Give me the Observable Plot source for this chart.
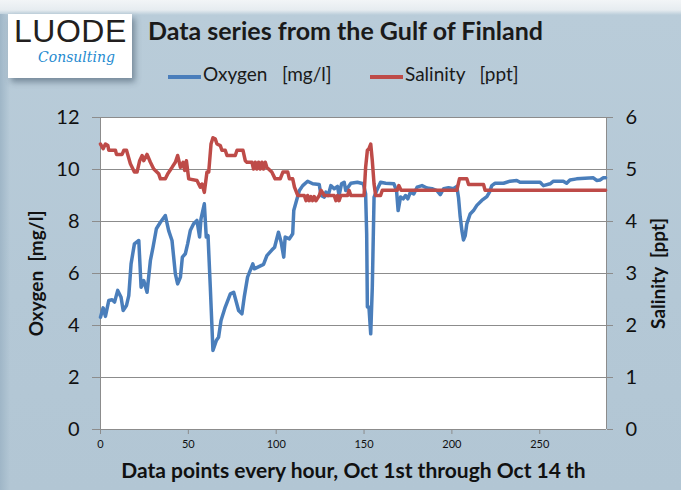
<!DOCTYPE html>
<html>
<head>
<meta charset="utf-8">
<script src="https://cdn.jsdelivr.net/npm/d3@7"></script>
<script src="https://cdn.jsdelivr.net/npm/@observablehq/plot@0.6"></script>
<style>
  html, body { margin: 0; padding: 0; }
  #page {
    position: relative; width: 681px; height: 490px; overflow: hidden;
    background: linear-gradient(to bottom, #f2f5f7 0px, #e6ecf0 10px, #b9ccd9 15px, #b4c8d6 60%, #b2c6d4 100%);
    font-family: Lato, "Open Sans", sans-serif;
  }
  #leftshade { position: absolute; left: 0; top: 14px; width: 10px; height: 476px;
    background: linear-gradient(to right, #9fb6c7, rgba(180,200,214,0)); }
  #logo { position: absolute; left: 8px; top: 14px; width: 124px; height: 64px; background: #fff;
    box-shadow: 3px 4px 6px rgba(40,60,80,0.45); }
  #logo .big { position: absolute; left: 6px; top: -1px; font-family: "Liberation Sans", Arial, sans-serif;
    font-size: 32px; color: #231f20; letter-spacing: 0.5px; }
  #logo .small { position: absolute; left: 30px; top: 35px; font-family: "DejaVu Serif", serif; font-style: italic;
    font-size: 14px; color: #1f8bd0; }
  #title { position: absolute; left: 148px; top: 15px; font-size: 25px; font-weight: bold; color: #1a1a1a; white-space: nowrap; }
  .leg { position: absolute; top: 62px; font-size: 19px; color: #1a1a1a; white-space: nowrap; }
  .sw { position: absolute; top: 75px; width: 33px; height: 4px; }
  #chart { position: absolute; left: 0; top: 95px; }
</style>
</head>
<body>
<div id="page">
  <div id="leftshade"></div>
  <div id="logo"><div class="big">LUODE</div><div class="small">Consulting</div></div>
  <div id="title">Data series from the Gulf of Finland</div>
  <div class="sw" style="left:168px;background:#4a7ebb"></div>
  <div class="leg" style="left:203px">Oxygen&nbsp;&nbsp;&nbsp;[mg/l]</div>
  <div class="sw" style="left:370px;background:#be4b48"></div>
  <div class="leg" style="left:405px">Salinity&nbsp;&nbsp;&nbsp;[ppt]</div>
  <div id="chart"></div>
</div>
<script>
// Oxygen [mg/l] readings (hour index, value)
const oxyHour = [0,1.5,2.8,4.7,6.6,8.0,9.8,11.7,12.9,14.8,16.1,17.4,19.3,21.8,23.1,24.6,26.5,28.4,29.9,31.8,34.1,36.9,38.8,40.7,42.6,43.9,45.5,46.6,48.3,49.6,51.1,53.0,54.9,56.4,57.2,59.1,60.2,61.2,62.5,64.0,65.9,67.2,68.6,71.0,73.9,75.8,78.6,80.5,81.8,83.7,86.7,87.5,92.8,94.7,97.5,99.1,101.3,102.8,104.3,105.1,107.5,109.4,110.0,111.3,113.2,115.1,117.9,120.8,124.5,125.5,127.4,128.3,129.6,131.1,133.0,134.9,135.8,137.2,138.7,139.6,140.9,142.5,146.2,149.6,150.9,151.5,151.9,152.8,153.8,154.7,155.7,157.2,159.4,162.3,167.0,168.5,169.4,170.8,172.3,173.6,174.9,176.4,178.3,180.2,183.0,185.8,188.7,191.5,193.4,195.3,198.1,200.9,202.8,203.8,204.7,205.7,206.6,207.6,208.5,210.4,212.3,214.2,217.0,219.9,221.4,222.7,224.6,229.4,233.1,236.9,238.8,250.2,252.1,255.9,257.8,263.4,265.3,267.2,271.0,280.5,282.4,284.3,286.2,287.5];
const oxyValue = [4.32,4.68,4.35,4.96,4.99,4.90,5.35,5.09,4.58,4.77,5.15,6.37,7.14,7.27,5.47,5.73,5.28,6.50,7.01,7.72,7.97,8.23,7.65,7.27,5.99,5.60,5.86,6.63,6.76,7.14,7.65,7.91,8.04,7.40,8.10,8.68,7.40,7.46,5.47,3.04,3.42,3.55,4.19,4.71,5.22,5.28,4.58,4.45,5.09,5.86,6.37,6.18,6.35,6.69,6.90,7.01,7.59,7.21,6.63,7.40,7.33,7.53,8.42,8.74,9.19,9.38,9.55,9.45,9.42,9.00,8.94,9.13,9.00,9.38,9.26,9.35,9.00,9.45,9.51,9.19,9.32,9.47,9.51,9.45,9.06,7.53,4.71,4.71,3.68,5.47,8.94,9.19,9.51,9.47,9.45,9.19,8.42,8.94,8.87,9.00,8.87,9.13,9.06,9.32,9.38,9.29,9.26,9.19,9.03,9.26,9.30,9.26,9.35,8.90,8.20,7.65,7.29,7.46,7.91,8.29,8.42,8.62,8.81,8.96,9.13,9.38,9.47,9.47,9.55,9.58,9.51,9.51,9.38,9.45,9.55,9.55,9.47,9.60,9.64,9.68,9.58,9.60,9.68,9.68];

// Salinity [ppt] readings (hour index, value)
const salHour = [0,1.5,2.8,4.2,4.7,8.5,9.1,12.3,13.3,14.8,17.0,19.3,20.8,22.3,23.7,24.6,26.5,28.4,30.3,33.1,34.1,36.9,38.3,40.7,42.6,43.9,45.5,47.0,47.9,48.9,50.2,54.9,56.8,57.8,59.1,60.6,61.6,62.9,64.0,65.3,66.3,68.2,69.1,71.0,72.0,76.7,77.7,81.1,82.4,83.3,86.2,87.1,88.1,89.0,90.0,90.9,91.9,92.8,93.8,94.7,97.5,99.4,102.3,103.8,106.6,107.5,109.4,110.4,112.3,116.0,117.0,117.9,118.8,119.8,120.7,121.6,122.6,124.5,125.5,127.4,133.0,134.0,134.9,135.8,136.8,140.6,141.5,142.5,150.0,150.9,151.9,152.8,153.8,154.7,155.7,156.6,159.4,160.4,168.9,169.8,171.1,202.8,204.3,208.5,209.5,218.0,218.9,287.5];
const salValue = [5.49,5.40,5.49,5.46,5.37,5.37,5.29,5.29,5.37,5.37,5.11,4.95,4.95,5.17,5.27,5.17,5.29,5.14,5.01,4.92,4.82,4.82,4.92,5.04,5.14,5.27,5.04,5.14,4.98,5.17,4.82,4.79,4.66,4.72,4.56,4.95,4.95,5.49,5.61,5.59,5.49,5.46,5.37,5.37,5.27,5.27,5.37,5.37,5.17,5.14,5.14,5.01,5.14,5.01,5.14,5.01,5.14,5.01,5.14,5.04,4.95,4.82,4.82,4.95,4.95,4.82,4.82,4.66,4.50,4.50,4.40,4.50,4.40,4.48,4.40,4.48,4.40,4.50,4.60,4.50,4.50,4.40,4.50,4.40,4.50,4.50,4.60,4.50,4.50,5.04,5.37,5.40,5.49,5.17,4.72,4.50,4.50,4.60,4.60,4.69,4.60,4.60,4.82,4.82,4.71,4.71,4.60,4.60];

const xTicks = [0, 50, 100, 150, 200, 250];
const oxyTicks = [0, 2, 4, 6, 8, 10, 12];
const salTicks = [0, 1, 2, 3, 4, 5, 6];
const xTitle = "Data points every hour, Oct 1st through Oct 14 th";
const yTitleLeft = "Oxygen\u00a0\u00a0[mg/l]";
const yTitleRight = "Salinity\u00a0\u00a0[ppt]";

const oxygen = oxyHour.map((h, i) => ({h, v: oxyValue[i]}));
const salinity = salHour.map((h, i) => ({h, v: salValue[i]}));
const salToOxy = 12 / 6;

const grid = "#8c8c8c";
const chart = Plot.plot({
  width: 681, height: 395,
  marginLeft: 100, marginRight: 75, marginTop: 22, marginBottom: 61,
  style: {background: "transparent", fontFamily: "Lato, 'Open Sans', sans-serif", color: "#111"},
  x: {domain: [0, 288]},
  y: {domain: [0, 12]},
  marks: [
    Plot.frame({fill: "white", stroke: null}),
    Plot.gridY(oxyTicks, {stroke: grid, strokeOpacity: 1, strokeWidth: 1}),
    Plot.ruleX([0, 288], {stroke: grid, strokeWidth: 1}),
    Plot.axisY(oxyTicks, {anchor: "left", tickSize: 8, tickPadding: 13, fontSize: 20, stroke: grid, label: null}),
    Plot.axisY(salTicks.map(s => s * salToOxy), {anchor: "right", tickSize: 6, tickPadding: 13, fontSize: 20, stroke: grid, label: null, tickFormat: d => d / salToOxy}),
    Plot.axisX(xTicks, {anchor: "bottom", tickSize: 5, tickPadding: 6, fontSize: 11, stroke: grid, label: null}),
    Plot.line(oxygen, {x: "h", y: "v", stroke: "#4a7ebb", strokeWidth: 3.5, strokeLinejoin: "round"}),
    Plot.line(salinity, {x: "h", y: d => d.v * salToOxy, stroke: "#be4b48", strokeWidth: 3.5, strokeLinejoin: "round"}),
    Plot.text([yTitleLeft], {frameAnchor: "left", textAnchor: "middle", dx: -64, rotate: -90, fontSize: 19, fontWeight: "bold", fill: "#111"}),
    Plot.text([yTitleRight], {frameAnchor: "right", textAnchor: "middle", dx: 52, rotate: -90, fontSize: 19, fontWeight: "bold", fill: "#111"}),
    Plot.text([xTitle], {frameAnchor: "bottom", dy: 48, fontSize: 21, fontWeight: "bold", fill: "#111"})
  ]
});
document.getElementById("chart").appendChild(chart);
</script>
</body>
</html>
